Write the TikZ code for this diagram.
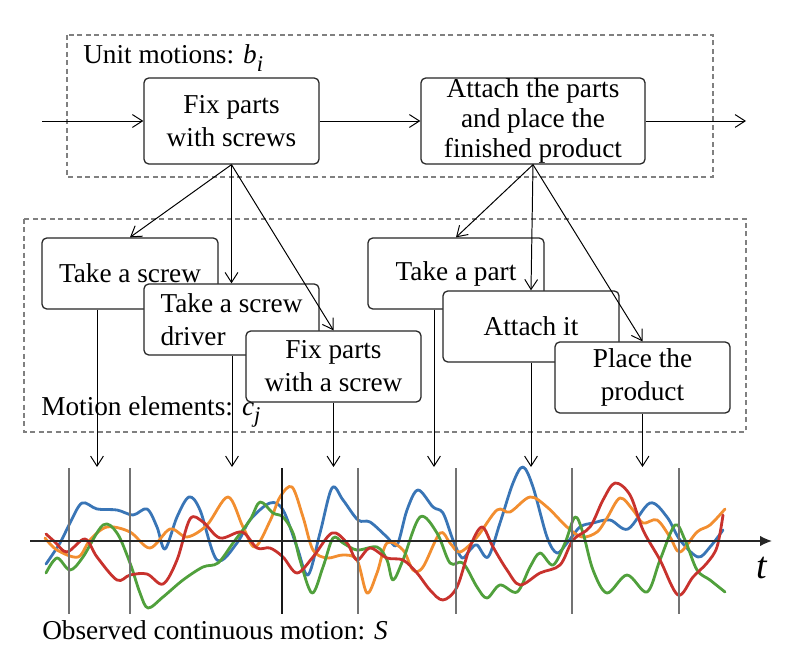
\documentclass[tikz,border=0pt]{standalone}
\usepackage{fontspec}
\setmainfont{Liberation Serif}
\usetikzlibrary{arrows.meta, positioning, calc}

\definecolor{sigblue}{RGB}{57,117,182}
\definecolor{sigorange}{RGB}{242,142,48}
\definecolor{siggreen}{RGB}{80,160,60}
\definecolor{sigred}{RGB}{200,50,45}
\newcommand{\subvar}[2]{\textit{#1}\raisebox{-0.28em}{\fontsize{16}{16}\selectfont\textit{#2}}}

\begin{document}
\begin{tikzpicture}[
x=0.025cm, y=-0.025cm,
font=\fontsize{19.4}{23.5}\selectfont,
box/.style={rectangle, draw=black!85, line width=0.9pt, rounded corners=0.12cm, fill=white, minimum height=1.775cm, align=center, inner sep=0pt},
mainbox/.style={box, minimum height=2.15cm},
frame/.style={draw=black!50, line width=0.9pt, dash pattern=on 3.5pt off 2.5pt},
lbl/.style={anchor=west, inner sep=0pt},
arrow/.style={-{Straight Barb[length=2.5mm,width=3.2mm]}, line width=0.7pt},
cut/.style={draw=black!55, line width=0.8pt},
sig/.style={line width=2pt, line join=round, line cap=round}
]
\useasboundingbox (0,0) rectangle (794,668);

% dashed groups
\draw[frame] (67,35) rectangle (713,177);
\draw[frame] (24,219) rectangle (746,432);

% unit motions
\node[lbl] (unitlbl) at (83,58) {Unit motions: \subvar{b}{i}};
\node[mainbox, minimum width=4.375cm] (fix) at (231.5,121) {Fix parts\\with screws};
\node[mainbox, minimum width=5.6cm, font=\fontsize{19.4}{21.3}\selectfont] (attach) at (533,121) {Attach the parts\\and place the\\finished product};
\coordinate (src) at (42,121);
\coordinate (sink) at (746,121);

% motion elements
\node[box, minimum width=4.4cm] (ts) at (130,273.5) {Take a screw};
\node[box, minimum width=4.375cm, align=left] (td) at (231.5,319.5) {Take a screw\\driver};
\node[box, minimum width=4.375cm] (fs) at (333.5,366.5) {Fix parts\\with a screw};
\node[box, minimum width=4.4cm] (tp) at (456,273.5) {Take a part};
\node[box, minimum width=4.4cm] (ai) at (531,326.5) {Attach it};
\node[box, minimum width=4.375cm] (pp) at (642.5,377.5) {Place the\\product};
\node[lbl] (elemlbl) at (41,412) {Motion elements: \subvar{c}{j}};

\draw[arrow] (src) -- (fix);
\draw[arrow] (fix) -- (attach);
\draw[arrow] (attach) -- (sink);
\draw[arrow] (fix.south) -- (ts.north);
\draw[arrow] (fix.south) -- (td.north);
\draw[arrow] (fix.south) -- (fs.north);
\draw[arrow] (attach.south) -- (tp.north);
\draw[arrow] (attach.south) -- (ai.north);
\draw[arrow] (attach.south) -- (pp.north);

% tips on the signal
\coordinate (e1) at (97,467);
\coordinate (e2) at (232,467);
\coordinate (e3) at (333.5,467);
\coordinate (e4) at (434,467);
\coordinate (e5) at (531,467);
\coordinate (e6) at (642.5,467);
\draw[arrow] (ts.south -| e1) -- (e1);
\draw[arrow] (td.south -| e2) -- (e2);
\draw[arrow] (fs.south -| e3) -- (e3);
\draw[arrow] (tp.south -| e4) -- (e4);
\draw[arrow] (ai.south -| e5) -- (e5);
\draw[arrow] (pp.south -| e6) -- (e6);

% signals
\draw[sig, sigblue] plot[smooth, tension=0.55] coordinates {(46,564) (60,543) (70,523) (82,503) (97,509) (117,510) (133,515) (147,509) (157,527) (165,549) (177,517) (189,497) (200,510) (217,560) (237,543) (250,520) (270,503) (283,510) (297,547) (308,575) (320,533) (332,488) (343,500) (358,520) (370,522) (387,537) (397,545) (407,510) (418,490) (433,507) (443,513) (453,540) (462,558) (470,550) (477,545) (488,557) (500,523) (513,483) (523,467) (533,487) (547,537) (557,553) (567,543) (580,527) (593,523) (610,520) (628,529) (650,503) (667,517) (680,540) (698,557) (710,547) (723,530)};
\draw[sig, sigorange] plot[smooth, tension=0.55] coordinates {(45,538) (57,550) (78,557) (90,540) (107,527) (130,532) (150,548) (170,529) (187,537) (207,525) (228,497) (243,527) (255,547) (270,521) (280,497) (292,487) (303,517) (313,550) (327,558) (343,555) (357,560) (367,593) (377,573) (387,543) (403,550) (413,570) (423,567) (440,533) (450,543) (460,552) (477,537) (497,510) (510,512) (530,497) (547,507) (567,527) (582,537) (597,532) (607,518) (620,498) (633,510) (643,523) (657,520) (670,537) (680,552) (697,532) (710,525) (725,509)};
\draw[sig, siggreen] plot[smooth, tension=0.55] coordinates {(46,573) (57,558) (70,570) (83,557) (103,525) (117,533) (130,563) (140,593) (148,608) (163,597) (183,580) (203,567) (218,563) (233,543) (250,520) (260,502) (273,513) (283,517) (293,533) (300,560) (312,593) (323,567) (333,538) (343,543) (357,550) (377,547) (387,560) (393,580) (403,560) (420,517) (437,533) (450,563) (463,563) (477,587) (487,598) (500,585) (517,592) (530,567) (540,553) (553,565) (565,543) (575,517) (583,533) (593,570) (607,593) (627,575) (647,592) (660,560) (675,525) (685,540) (697,570) (710,580) (725,592)};
\draw[sig, sigred] plot[smooth, tension=0.55] coordinates {(46,534) (55,542) (67,552) (85,539) (97,557) (117,580) (130,575) (147,574) (163,584) (177,560) (190,519) (203,522) (220,538) (242,532) (257,548) (270,548) (283,557) (297,573) (313,557) (332,533) (347,543) (357,560) (370,548) (387,558) (403,560) (417,573) (430,590) (443,600) (457,587) (470,547) (482,527) (493,547) (507,570) (520,585) (540,573) (560,565) (573,540) (590,527) (603,500) (615,483) (630,495) (643,530) (660,560) (678,595) (693,577) (707,563) (717,547) (723,515)};

% segment borders and time axis
\foreach \cx in {69,130,358,456,572,679}
  \draw[cut] (\cx,468) -- (\cx,614);
\draw[cut, draw=black!90] (282,468) -- (282,614);
\coordinate (ax0) at (30,541);
\coordinate (ax1) at (772,541);
\draw[-{Latex[length=3mm,width=2.6mm]}, line width=0.9pt, black!85] (ax0) -- (ax1);
\node (tlbl) at (762,568) {\fontsize{27}{27}\selectfont\textit{t}};
\node[lbl] (obslbl) at (42,630) {Observed continuous motion: \textit{S}};
\end{tikzpicture}
\end{document}
